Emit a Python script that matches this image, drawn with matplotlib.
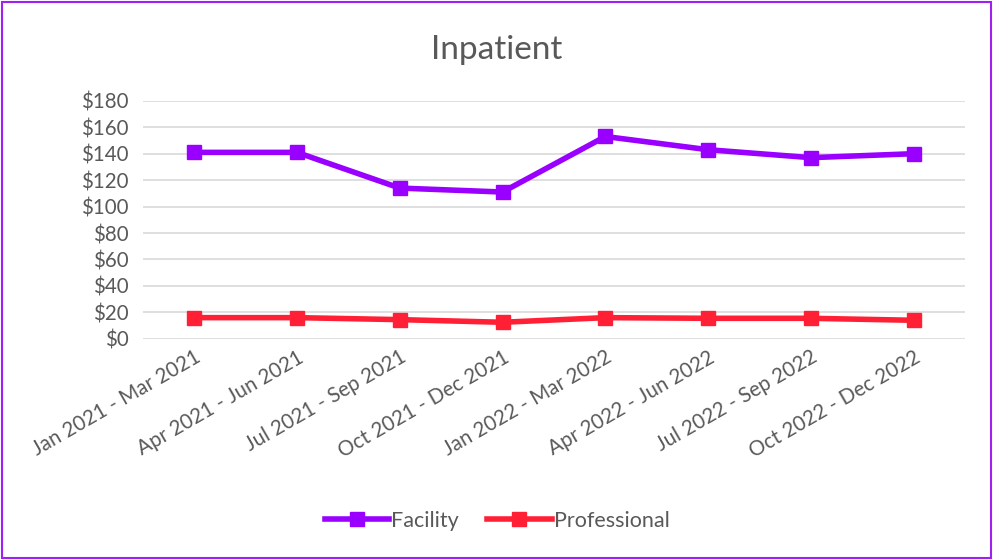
import matplotlib.pyplot as plt
from matplotlib.patches import Rectangle
from matplotlib.ticker import FuncFormatter

plt.rcParams['font.family'] = ['Lato', 'DejaVu Sans']

quarters = ["Jan 2021 - Mar 2021", "Apr 2021 - Jun 2021", "Jul 2021 - Sep 2021",
            "Oct 2021 - Dec 2021", "Jan 2022 - Mar 2022", "Apr 2022 - Jun 2022",
            "Jul 2022 - Sep 2022", "Oct 2022 - Dec 2022"]
facility = [141, 141, 114, 111, 153, 143, 137, 140]
professional = [16, 16, 14.5, 12.5, 16, 15.5, 15.5, 14]

grey = '#595959'

fig = plt.figure(figsize=(9.94, 5.6), dpi=100)
ax = fig.add_axes([0.1436, 0.395, 0.8274, 0.425])

x = range(len(quarters))
ax.plot(x, facility, color='#9900FF', lw=4, marker='s', ms=10, label='Facility', zorder=3)
ax.plot(x, professional, color='#FF2035', lw=4, marker='s', ms=10, label='Professional', zorder=3)

ax.set_xlim(-0.5, len(quarters) - 0.5)
ax.set_ylim(0, 180)
ax.set_yticks(range(0, 181, 20))
ax.yaxis.set_major_formatter(FuncFormatter(lambda v, p: f"${v:.0f}"))
ax.grid(axis='y', color='#D9D9D9', lw=1.2)
ax.set_axisbelow(True)
for s in ax.spines.values():
    s.set_visible(False)
ax.tick_params(axis='both', length=0, labelsize=14.8, labelcolor=grey)
ax.tick_params(axis='y', pad=10)
ax.tick_params(axis='x', pad=6)
ax.set_xticks(list(x))
ax.set_xticklabels(quarters, rotation=30, ha='right', rotation_mode='anchor')

fig.suptitle('Inpatient', y=0.938, fontsize=24, color=grey)
fig.legend(loc='lower center', bbox_to_anchor=(0.5, 0.018), ncol=2, frameon=False,
           fontsize=15.5, labelcolor=grey, handlelength=3, handletextpad=0.1,
           columnspacing=1.3)

fig.patches.append(Rectangle((0.002, 0.003), 0.995, 0.993, transform=fig.transFigure,
                             fill=False, edgecolor='#A020F0', lw=1.5))

fig.savefig('out.png', dpi=100)
